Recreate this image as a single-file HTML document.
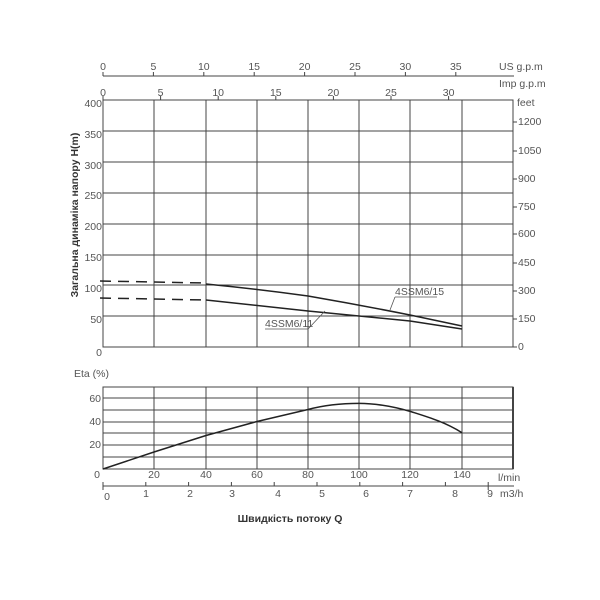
<!DOCTYPE html>
<html><head><meta charset="utf-8"><style>
html,body{margin:0;padding:0;background:#fff;width:600px;height:600px;overflow:hidden}
svg{display:block}
text{font-family:"Liberation Sans","DejaVu Sans",sans-serif;font-size:10.5px;fill:#555}
</style></head><body>
<svg width="600" height="600" viewBox="0 0 600 600" xmlns="http://www.w3.org/2000/svg">
<g stroke="#444" stroke-width="1" fill="none">
<line x1="103" y1="76" x2="514" y2="76"/>
<path d="M103 72V76M153.4 72V76M203.8 72V76M254.2 72V76M304.6 72V76M355 72V76M405.4 72V76M455.8 72V76"/>
<path d="M103 96V100M160.6 96V100M218.2 96V100M275.8 96V100M333.4 96V100M391 96V100M448.6 96V100"/>
<rect x="103" y="100" width="410" height="247"/>
<path d="M103 131H513M103 162H513M103 193H513M103 224H513M103 255H513M103 285H513M103 316H513"/>
<path d="M154 100V347M206 100V347M257 100V347M308 100V347M359 100V347M410 100V347M462 100V347"/>
<path d="M513 122h4M513 151h4M513 179h4M513 207h4M513 234h4M513 263h4M513 291h4M513 319h4M513 347h4"/>
</g>
<g fill="none" stroke="#222" stroke-width="1.5">
<path d="M100 281L206 283" stroke-dasharray="11,7"/>
<path d="M100 298L206 300" stroke-dasharray="11,7"/>
<path d="M206 284Q257 289 308 296Q360 305 410 315L462 326"/>
<path d="M206 300L308 311L359 316L410 321L462 329"/>
</g>
<g fill="none" stroke="#555" stroke-width="0.8">
<path d="M395 297H437M395 297L390 310"/>
<path d="M265 329H308M308 329L325 311"/>
</g>
<text x="395" y="295" font-size="9.5">4SSM6/15</text>
<text x="265" y="327" font-size="9.5">4SSM6/11</text>
<g text-anchor="middle">
<text x="103" y="70">0</text><text x="153.4" y="70">5</text><text x="203.8" y="70">10</text><text x="254.2" y="70">15</text><text x="304.6" y="70">20</text><text x="355" y="70">25</text><text x="405.4" y="70">30</text><text x="455.8" y="70">35</text>
<text x="103" y="96">0</text><text x="160.6" y="96">5</text><text x="218.2" y="96">10</text><text x="275.8" y="96">15</text><text x="333.4" y="96">20</text><text x="391" y="96">25</text><text x="448.6" y="96">30</text>
</g>
<text x="499" y="70">US g.p.m</text>
<text x="499" y="87">Imp g.p.m</text>
<g text-anchor="end">
<text x="102" y="107">400</text><text x="102" y="138">350</text><text x="102" y="169">300</text><text x="102" y="199">250</text><text x="102" y="230">200</text><text x="102" y="261">150</text><text x="102" y="292">100</text><text x="102" y="323">50</text><text x="102" y="356">0</text>
</g>
<g>
<text x="517" y="106">feet</text><text x="518" y="125">1200</text><text x="518" y="154">1050</text><text x="518" y="182">900</text><text x="518" y="210">750</text><text x="518" y="237">600</text><text x="518" y="266">450</text><text x="518" y="294">300</text><text x="518" y="322">150</text><text x="518" y="350">0</text>
</g>
<text transform="translate(78,215) rotate(-90)" text-anchor="middle" font-size="12.5" font-weight="bold" style="fill:#333">Загальна динаміка напору H(m)</text>
<text x="74" y="377" font-size="9.5">Eta (%)</text>
<g stroke="#444" stroke-width="1" fill="none">
<rect x="103" y="387" width="410" height="82"/>
<line x1="513" y1="387" x2="513" y2="469" stroke-width="2"/>
<path d="M103 398H513M103 410H513M103 422H513M103 433H513M103 445H513M103 457H513"/>
<path d="M154 387V469M206 387V469M257 387V469M308 387V469M359 387V469M410 387V469M462 387V469"/>
<line x1="103" y1="486" x2="514" y2="486"/>
<path d="M103 482V490M145.8 482V486M188.6 482V486M231.4 482V486M274.2 482V486M317 482V486M359.8 482V486M402.6 482V486M445.4 482V486M488.2 482V490"/>
</g>
<path d="M103 469L154 452L206 435.5L257 421.5L308 409.5C325 405 342 403.4 359 403.4C376 403.4 395 407 411 411.6C428 417 445 422 462 432.7" fill="none" stroke="#222" stroke-width="1.5" stroke-linejoin="round"/>
<g text-anchor="end">
<text x="101" y="402">60</text><text x="101" y="425">40</text><text x="101" y="448">20</text>
</g>
<text x="100" y="478" text-anchor="end">0</text>
<g text-anchor="middle">
<text x="154" y="478">20</text><text x="206" y="478">40</text><text x="257" y="478">60</text><text x="308" y="478">80</text><text x="359" y="478">100</text><text x="410" y="478">120</text><text x="462" y="478">140</text>
<text x="107" y="500">0</text><text x="146" y="497">1</text><text x="190" y="497">2</text><text x="232" y="497">3</text><text x="278" y="497">4</text><text x="322" y="497">5</text><text x="366" y="497">6</text><text x="410" y="497">7</text><text x="455" y="497">8</text><text x="490" y="497">9</text>
</g>
<text x="498" y="481">l/min</text>
<text x="500" y="497">m3/h</text>
<text x="290" y="522" text-anchor="middle" font-size="13.5" font-weight="bold" style="fill:#333">Швидкість потоку Q</text>
</svg>
</body></html>
